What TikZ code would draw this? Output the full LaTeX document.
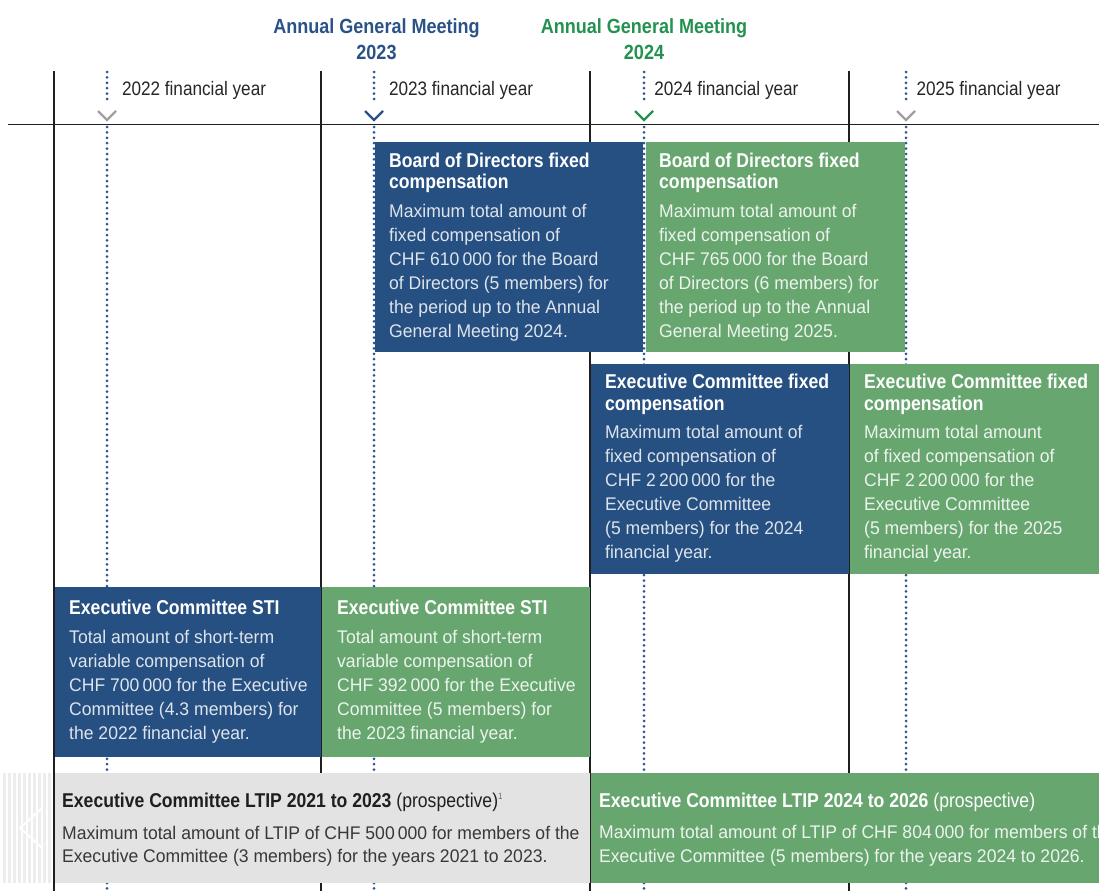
\documentclass[tikz,border=0pt]{standalone}
\usepackage{fontspec}
\setmainfont{Liberation Sans}[FakeStretch=0.96]
\newfontfamily\condfont{Liberation Sans}[FakeStretch=0.88]
\usetikzlibrary{positioning}
\definecolor{navy}{HTML}{264F82}
\definecolor{leaf}{HTML}{68A670}
\definecolor{panelgray}{HTML}{E3E3E3}
\definecolor{agmblue}{HTML}{2B5287}
\definecolor{agmgreen}{HTML}{23914F}
\definecolor{dotblue}{HTML}{2A5690}
\definecolor{chevgray}{HTML}{A0A0A0}
\tikzset{
    panelb/.style = {rectangle, inner sep=0pt, anchor=north west, fill=navy},
    panelg/.style = {rectangle, inner sep=0pt, anchor=north west, fill=leaf},
    panelgr/.style = {rectangle, inner sep=0pt, anchor=north west, fill=panelgray},
    titlew/.style = {anchor=base west, inner sep=0pt, align=left, text=white, font=\condfont\bfseries\fontsize{20}{21.5}\selectfont},
    titlek/.style = {anchor=base west, inner sep=0pt, align=left, text=black!88, font=\condfont\bfseries\fontsize{20}{21.5}\selectfont},
    textb/.style = {anchor=base west, inner sep=0pt, align=left, text=white!85!navy, font=\fontsize{18.3}{24}\selectfont},
    textg/.style = {anchor=base west, inner sep=0pt, align=left, text=white!88!leaf, font=\fontsize{18.3}{24}\selectfont},
    textk/.style = {anchor=base west, inner sep=0pt, align=left, text=black!78, font=\fontsize{18.3}{23.5}\selectfont},
    yearlabel/.style = {anchor=base west, inner sep=0pt, text=black!85, font=\condfont\fontsize{19.5}{24}\selectfont},
    agm/.style = {anchor=base, inner sep=0pt, align=center, font=\condfont\bfseries\fontsize{20.5}{26}\selectfont},
    edgen/.style = {-, line width=1.5pt, black!88},
    edgebd/.style = {-, line width=3pt, dotblue, dash pattern=on 0pt off 5.4pt, line cap=round}, % year start
    chev/.style = {-, line width=2.4pt, line join=miter}
}

\begin{document}
\begin{tikzpicture}[x=1pt, y=-1pt]
  \useasboundingbox (0,0) rectangle (1099,891);

  % faded stripes on the left
  \foreach \i in {0,...,9}
    \fill[black!7] (3+\i*5,773) rectangle +(2.6,110);
  \draw[white, line width=2pt] (42,808) -- (20,828) -- (42,848);

  % year grid
  \foreach \x in {54,321,590,849}
    \draw[edgen] (\x,71) -- (\x,891);
  \draw[edgen] (8,124.3) -- (1099,124.3);
  \foreach \x/\c in {107/chevgray,374/agmblue,644/agmgreen,906/chevgray} {
    \draw[edgebd] (\x,72) -- (\x,104);
    \draw[edgebd] (\x,127) -- (\x,891);
    \draw[chev,\c] (\x-9,111) -- (\x,120) -- (\x+9,111);
  }

  % multi-line nodes sit on the baseline of their last line
  \node[agm, text=agmblue] (agm23) at (376.5,59.3) {Annual General Meeting\\2023};
  \node[agm, text=agmgreen] (agm24) at (644,59.3) {Annual General Meeting\\2024};
  \node[yearlabel] (fy22) at (121.8,95.7) {2022 financial year};
  \node[yearlabel] (fy23) at (388.8,95.7) {2023 financial year};
  \node[yearlabel] (fy24) at (654.2,95.7) {2024 financial year};
  \node[yearlabel] (fy25) at (916.3,95.7) {2025 financial year};

  % board of directors
  \node[panelb, minimum width=267.5, minimum height=210] (bod23) at (375,142) {};
  \node[panelg, minimum width=259.2, minimum height=210] (bod24) at (645.3,142) {};
  \node[titlew] (bod23t) at (389,188.8) {Board of Directors fixed\\compensation};
  \node[textb] (bod23x) at (389,337) {Maximum total amount of\\fixed compensation of\\CHF 610\,000 for the Board\\of Directors (5 members) for\\the period up to the Annual\\General Meeting 2024.};
  \node[titlew] (bod24t) at (659,188.8) {Board of Directors fixed\\compensation};
  \node[textg] (bod24x) at (659,337) {Maximum total amount of\\fixed compensation of\\CHF 765\,000 for the Board\\of Directors (6 members) for\\the period up to the Annual\\General Meeting 2025.};

  % executive committee fixed
  \node[panelb, minimum width=257.3, minimum height=210.4] (ecf24) at (591,363.3) {};
  \node[panelg, minimum width=250, minimum height=210.4] (ecf25) at (849.8,363.3) {};
  \node[titlew] (ecf24t) at (605,410.1) {Executive Committee fixed\\compensation};
  \node[textb] (ecf24x) at (605,558.4) {Maximum total amount of\\fixed compensation of\\CHF 2\,200\,000 for the\\Executive Committee\\(5 members) for the 2024\\financial year.};
  \node[titlew] (ecf25t) at (864,410.1) {Executive Committee fixed\\compensation};
  \node[textg] (ecf25x) at (864,558.4) {Maximum total amount\\of fixed compensation of\\CHF 2\,200\,000 for the\\Executive Committee\\(5 members) for the 2025\\financial year.};

  % short-term incentive
  \node[panelb, minimum width=265.5, minimum height=170] (sti22) at (54.8,586.7) {};
  \node[panelg, minimum width=267.5, minimum height=170] (sti23) at (321.8,586.7) {};
  \node[titlew] (sti22t) at (69,614) {Executive Committee STI};
  \node[textb] (sti22x) at (69,739.3) {Total amount of short-term\\variable compensation of\\CHF 700\,000 for the Executive\\Committee (4.3 members) for\\the 2022 financial year.};
  \node[titlew] (sti23t) at (337,614) {Executive Committee STI};
  \node[textg] (sti23x) at (337,739.3) {Total amount of short-term\\variable compensation of\\CHF 392\,000 for the Executive\\Committee (5 members) for\\the 2023 financial year.};

  % long-term incentive
  \node[panelgr, minimum width=534.5, minimum height=110] (ltip21) at (54.8,773) {};
  \node[panelg, minimum width=510, minimum height=110] (ltip24) at (591,773) {};
  \node[titlek] (ltip21t) at (62,807) {Executive Committee LTIP 2021 to 2023 {\mdseries(prospective)\raisebox{8pt}{\color{black!60}\fontsize{9}{9}\selectfont 1}}};
  \node[textk] (ltip21x) at (62,862.5) {Maximum total amount of LTIP of CHF 500\,000 for members of the\\Executive Committee (3 members) for the years 2021 to 2023.};
  \node[titlew] (ltip24t) at (599,807) {Executive Committee LTIP 2024 to 2026 {\mdseries(prospective)}};
  \node[textg] (ltip24x) at (599,862.5) {Maximum total amount of LTIP of CHF 804\,000 for members of the\\Executive Committee (5 members) for the years 2024 to 2026.};
\end{tikzpicture}
\end{document}
